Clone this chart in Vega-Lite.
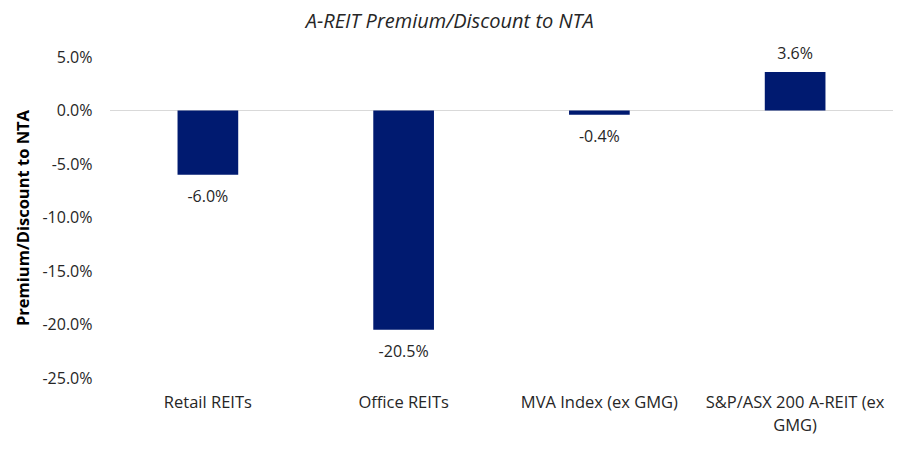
{
  "$schema": "https://vega.github.io/schema/vega-lite/v6.json",
  "autosize": "none",
  "width": 783,
  "height": 321,
  "padding": {"left": 110, "top": 57, "right": 13, "bottom": 93},
  "background": "white",
  "title": {
    "text": "A-REIT Premium/Discount to NTA",
    "font": "Open Sans",
    "fontSize": 20,
    "fontStyle": "italic",
    "fontWeight": "normal",
    "color": "#262626",
    "anchor": "middle",
    "frame": "bounds",
    "offset": 14,
    "dx": -5
  },
  "data": {
    "values": [
      {"category": "Retail REITs", "value": -0.060},
      {"category": "Office REITs", "value": -0.205},
      {"category": "MVA Index (ex GMG)", "value": -0.004},
      {"category": "S&P/ASX 200 A-REIT (ex GMG)", "value": 0.036}
    ]
  },
  "transform": [
    {"calculate": "replace(format(datum.value, '.1%'), '\u2212', '-')", "as": "label"}
  ],
  "encoding": {
    "x": {
      "field": "category",
      "type": "nominal",
      "sort": null,
      "scale": {"paddingInner": 0.69, "paddingOuter": 0.345},
      "axis": {
        "title": null,
        "orient": "bottom",
        "domain": false,
        "ticks": false,
        "labelAngle": 0,
        "labelPadding": 16,
        "labelLimit": 300,
        "labelFont": "Open Sans",
        "labelFontSize": 16.5,
        "labelColor": "#262626",
        "labelLineHeight": 23,
        "labelExpr": "datum.value == 'S&P/ASX 200 A-REIT (ex GMG)' ? ['S&P/ASX 200 A-REIT (ex', 'GMG)'] : datum.value"
      }
    }
  },
  "layer": [
    {
      "mark": {"type": "rule", "color": "#d9d9d9", "strokeWidth": 1},
      "encoding": {"y": {"datum": 0, "type": "quantitative"}, "x": {"value": 0}, "x2": {"value": 783}}
    },
    {
      "mark": {"type": "bar", "color": "#001a70"},
      "encoding": {
        "y": {
          "field": "value",
          "type": "quantitative",
          "scale": {"domain": [-0.25, 0.05], "nice": false},
          "axis": {
            "title": "Premium/Discount to NTA",
            "titleFont": "Open Sans",
            "titleFontSize": 16.5,
            "titleFontWeight": "bold",
            "titleColor": "#000000",
            "titlePadding": 10,
            "format": ".1%",
            "labelExpr": "replace(datum.label, '\u2212', '-')",
            "values": [0.05, 0, -0.05, -0.1, -0.15, -0.2, -0.25],
            "domain": false,
            "ticks": false,
            "grid": false,
            "labelPadding": 18,
            "labelFont": "Open Sans",
            "labelFontSize": 16,
            "labelColor": "#262626"
          }
        },
        "y2": {"datum": 0}
      }
    },
    {
      "transform": [{"filter": "datum.value < 0"}],
      "mark": {"type": "text", "font": "Open Sans", "fontSize": 16, "color": "#262626", "baseline": "middle", "dy": 22},
      "encoding": {
        "y": {"field": "value", "type": "quantitative"},
        "text": {"field": "label", "type": "nominal"}
      }
    },
    {
      "transform": [{"filter": "datum.value >= 0"}],
      "mark": {"type": "text", "font": "Open Sans", "fontSize": 16, "color": "#262626", "baseline": "middle", "dy": -18},
      "encoding": {
        "y": {"field": "value", "type": "quantitative"},
        "text": {"field": "label", "type": "nominal"}
      }
    }
  ],
  "config": {"view": {"stroke": null}}
}
